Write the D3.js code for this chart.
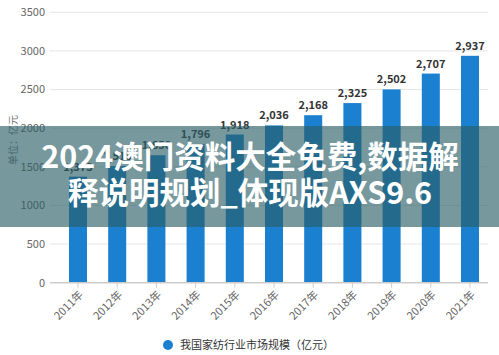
<!DOCTYPE html>
<html><head><meta charset="utf-8">
<script src="https://cdn.jsdelivr.net/npm/d3@7"></script>
<style>
html,body{margin:0;padding:0;background:#fff;}
svg{display:block;font-family:"Noto Sans CJK SC","Noto Sans",sans-serif;}
</style></head>
<body><svg id="c" width="499" height="355"></svg>
<script>
const categories = ["2011年","2012年","2013年","2014年","2015年","2016年","2017年","2018年","2019年","2020年","2021年"];
const values = [1373, 1510, 1650, 1796, 1918, 2036, 2168, 2325, 2502, 2707, 2937];
const yTicks = [0, 500, 1000, 1500, 2000, 2500, 3000, 3500];
const seriesName = "我国家纺行业市场规模（亿元）";
const yTitle = "单位：亿元";
const bannerLines = ["2024澳门资料大全免费,数据解", "释说明规划_体现版AXS9.6"];

const svg = d3.select("#c");
const x = d3.scaleBand().domain(categories).range([58.4, 489.6]).paddingInner(0.54).paddingOuter(0.27);
const y = d3.scaleLinear().domain([0, 3500]).range([282.7, 12.3]);
const gx0 = 50, gx1 = 488;

// gridlines
svg.append("g").selectAll("line").data(yTicks.filter(d => d > 0)).join("line")
  .attr("x1", gx0).attr("x2", gx1).attr("y1", d => y(d)).attr("y2", d => y(d))
  .attr("stroke", "#e6e6e6").attr("stroke-width", 1);

// y tick labels
svg.append("g").selectAll("text").data(yTicks).join("text")
  .attr("x", 45).attr("y", d => y(d)).attr("dy", "0.35em")
  .attr("text-anchor", "end").attr("font-size", 11).attr("fill", "#666")
  .text(d => d);

// y title
svg.append("text").attr("transform", "translate(13,140) rotate(-90)")
  .attr("text-anchor", "middle").attr("dy", "0.35em").attr("font-size", 10).attr("fill", "#777")
  .text(yTitle);

// bars
svg.append("g").selectAll("rect").data(values).join("rect")
  .attr("x", (d, i) => x(categories[i])).attr("width", x.bandwidth())
  .attr("y", d => y(d)).attr("height", d => y(0) - y(d))
  .attr("fill", "#1b80d0");

// value labels
svg.append("g").selectAll("text").data(values).join("text")
  .attr("x", (d, i) => x(categories[i]) + x.bandwidth() / 2).attr("y", d => y(d) - 6)
  .attr("text-anchor", "middle").attr("font-size", 11).attr("font-weight", "bold").attr("fill", "#333")
  .text(d => d3.format(",")(d));

// x axis
const xa = svg.append("g").attr("transform", `translate(0,${y(0)})`);
xa.append("line").attr("x1", gx0).attr("x2", gx1).attr("stroke", "#ccc").attr("stroke-width", 1.5);
xa.selectAll("line.t").data(categories).join("line").attr("class", "t")
  .attr("x1", d => x(d) + x.bandwidth() / 2).attr("x2", d => x(d) + x.bandwidth() / 2)
  .attr("y1", 0).attr("y2", 5).attr("stroke", "#ccc");
xa.selectAll("text").data(categories).join("text")
  .attr("transform", d => `translate(${x(d) + x.bandwidth() / 2 + 3},${10}) rotate(-45)`)
  .attr("text-anchor", "end").attr("dy", "0.35em").attr("font-size", 11).attr("fill", "#666")
  .text(d => d);

// legend
svg.append("circle").attr("cx", 168).attr("cy", 345).attr("r", 5).attr("fill", "#1b80d0");
svg.append("text").attr("x", 180).attr("y", 345).attr("dy", "0.35em").attr("font-size", 11).attr("fill", "#333")
  .text(seriesName);

// banner overlay
svg.append("rect").attr("x", 0).attr("y", 126).attr("width", 499).attr("height", 101)
  .attr("fill", "rgb(42,94,102)").attr("fill-opacity", 0.64);
svg.append("g").selectAll("text").data(bannerLines).join("text")
  .attr("x", 250).attr("y", (d, i) => 157 + i * 36).attr("dy", "0.35em")
  .attr("text-anchor", "middle").attr("font-size", 30.5).attr("font-weight", "bold").attr("fill", "#fff")
  .text(d => d);
</script></body></html>
